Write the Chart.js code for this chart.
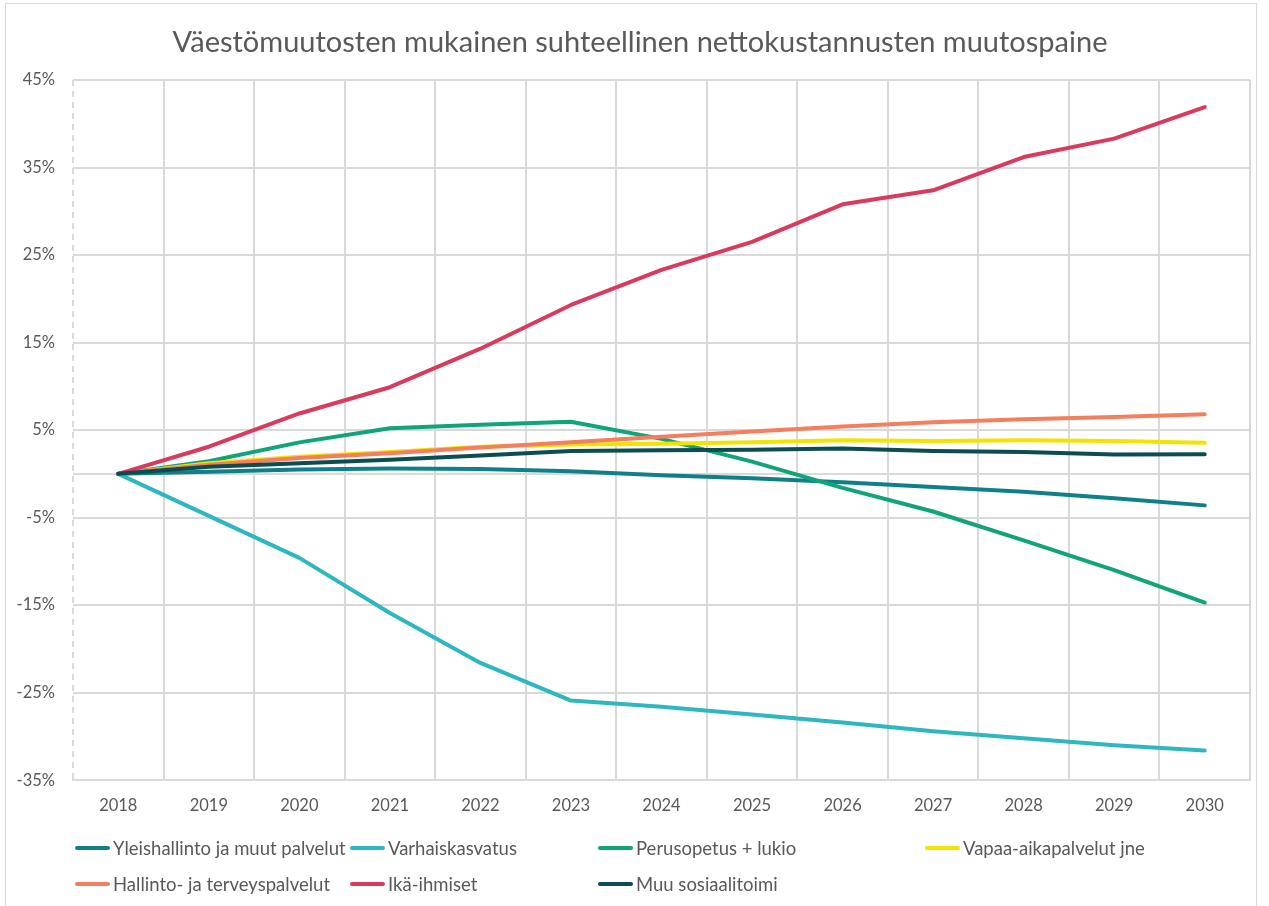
<!DOCTYPE html>
<html>
<head>
<meta charset="utf-8">
<script src="https://cdn.jsdelivr.net/npm/chart.js@4"></script>
<style>
  body { margin:0; background:#fff; }
  #wrap { position:relative; width:1269px; height:906px; }
  #frame { position:absolute; left:5px; top:3px; width:1252px; height:910px; border:1px solid #d9d9d9; box-sizing:border-box; }
  #title { position:absolute; left:0; width:1280px; top:40px; transform:translateY(-50%); text-align:center; font-family:Lato, sans-serif; font-size:29px; color:#595959; white-space:nowrap; }
  #legend { position:absolute; left:0; top:0; width:1269px; height:906px; pointer-events:none; font-family:Lato, sans-serif; font-size:18.5px; color:#595959; }
  .item { position:absolute; display:flex; align-items:center; white-space:nowrap; transform:translateY(-50%); }
  .item i { display:inline-block; width:35px; height:4px; border-radius:2px; margin-right:3px; }
</style>
</head>
<body>
<div id="wrap">
  <div id="frame"></div>
  <canvas id="chart" width="1269" height="906"></canvas>
  <div id="title">Väestömuutosten mukainen suhteellinen nettokustannusten muutospaine</div>
  <div id="legend"></div>
</div>
<script>
// chart data
const years = ["2018","2019","2020","2021","2022","2023","2024","2025","2026","2027","2028","2029","2030"];
const yTicks = [-35,-25,-15,-5,0,5,15,25,35,45];

const yleishallinto = [0, 0.25, 0.5, 0.6, 0.55, 0.3, -0.15, -0.5, -0.95, -1.5, -2.05, -2.8, -3.6];
const varhaiskasvatus = [0, -4.8, -9.6, -15.9, -21.6, -25.9, -26.6, -27.5, -28.4, -29.4, -30.2, -31.0, -31.6];
const perusopetus = [0, 1.45, 3.6, 5.2, 5.6, 5.95, 4.0, 1.4, -1.6, -4.3, -7.6, -11.0, -14.7];
const vapaaAika = [0, 1.2, 1.95, 2.5, 3.1, 3.35, 3.45, 3.6, 3.85, 3.75, 3.85, 3.75, 3.55];
const hallintoTerveys = [0, 1.05, 1.8, 2.35, 3.0, 3.6, 4.25, 4.85, 5.4, 5.9, 6.25, 6.5, 6.8];
const ikaIhmiset = [0, 3.1, 6.9, 9.9, 14.3, 19.3, 23.3, 26.5, 30.8, 32.4, 36.2, 38.3, 41.9];
const muuSosiaali = [0, 0.8, 1.2, 1.6, 2.1, 2.6, 2.7, 2.75, 2.9, 2.6, 2.5, 2.2, 2.25];

const series = [
  { label: "Yleishallinto ja muut palvelut", data: yleishallinto, color: "#0f808a" },
  { label: "Varhaiskasvatus", data: varhaiskasvatus, color: "#2eb7bf" },
  { label: "Perusopetus + lukio", data: perusopetus, color: "#11a47a" },
  { label: "Vapaa-aikapalvelut jne", data: vapaaAika, color: "#f0e400" },
  { label: "Hallinto- ja terveyspalvelut", data: hallintoTerveys, color: "#f47f5f" },
  { label: "Ikä-ihmiset", data: ikaIhmiset, color: "#d83b5e" },
  { label: "Muu sosiaalitoimi", data: muuSosiaali, color: "#0b4d52" }
];

const gridColor = "#d9d9d9";
const textColor = "#595959";

// dashed vertical axis line on the left edge of the plot
const dashedAxis = {
  id: "dashedAxis",
  beforeDatasetsDraw(chart) {
    const { ctx, chartArea } = chart;
    ctx.save();
    ctx.strokeStyle = gridColor;
    ctx.lineWidth = 2;
    ctx.setLineDash([6, 5]);
    ctx.beginPath();
    ctx.moveTo(chartArea.left, chartArea.top);
    ctx.lineTo(chartArea.left, chartArea.bottom);
    ctx.stroke();
    ctx.restore();
  }
};

const chart = new Chart(document.getElementById("chart"), {
  type: "line",
  data: {
    labels: years,
    datasets: series.map((s, i) => ({
      label: s.label, data: s.data,
      borderColor: s.color, backgroundColor: s.color,
      borderWidth: 4, pointRadius: 0, tension: 0,
      borderCapStyle: "round", borderJoinStyle: "round",
      order: series.length - i
    }))
  },
  options: {
    responsive: false, animation: false,
    layout: { padding: { left: 0, right: 19, top: 80, bottom: 74 } },
    plugins: {
      legend: { display: false },
      tooltip: { enabled: false },
      title: { display: false }
    },
    scales: {
      x: {
        offset: true,
        grid: {
          offset: true, drawTicks: false,
          color: ctx => ctx.index === 0 ? "rgba(0,0,0,0)" : gridColor,
          lineWidth: 2
        },
        border: { color: gridColor, width: 2 },
        ticks: { color: textColor, font: { family: "Lato", size: 16.5 }, padding: 16, maxRotation: 0 }
      },
      y: {
        min: -35, max: 45,
        afterBuildTicks: scale => { scale.ticks = yTicks.map(v => ({ value: v })); },
        afterFit: scale => { scale.width = 73; },
        grid: { drawTicks: false, color: gridColor, lineWidth: 2 },
        border: { display: false },
        ticks: {
          color: textColor, font: { family: "Lato", size: 16.5 }, padding: 18,
          callback: v => v === 0 ? "" : v + "%"
        }
      }
    }
  },
  plugins: [dashedAxis]
});

// legend laid out in columns like the original
const legendCols = [75, 350, 598, 925];
const legendRows = [848, 884];
const legendEl = document.getElementById("legend");
chart.data.datasets.forEach((ds, i) => {
  const div = document.createElement("div");
  div.className = "item";
  div.style.left = legendCols[i % 4] + "px";
  div.style.top = legendRows[Math.floor(i / 4)] + "px";
  div.innerHTML = `<i style="background:${ds.borderColor}"></i><span>${ds.label}</span>`;
  legendEl.appendChild(div);
});
</script>
</body>
</html>
